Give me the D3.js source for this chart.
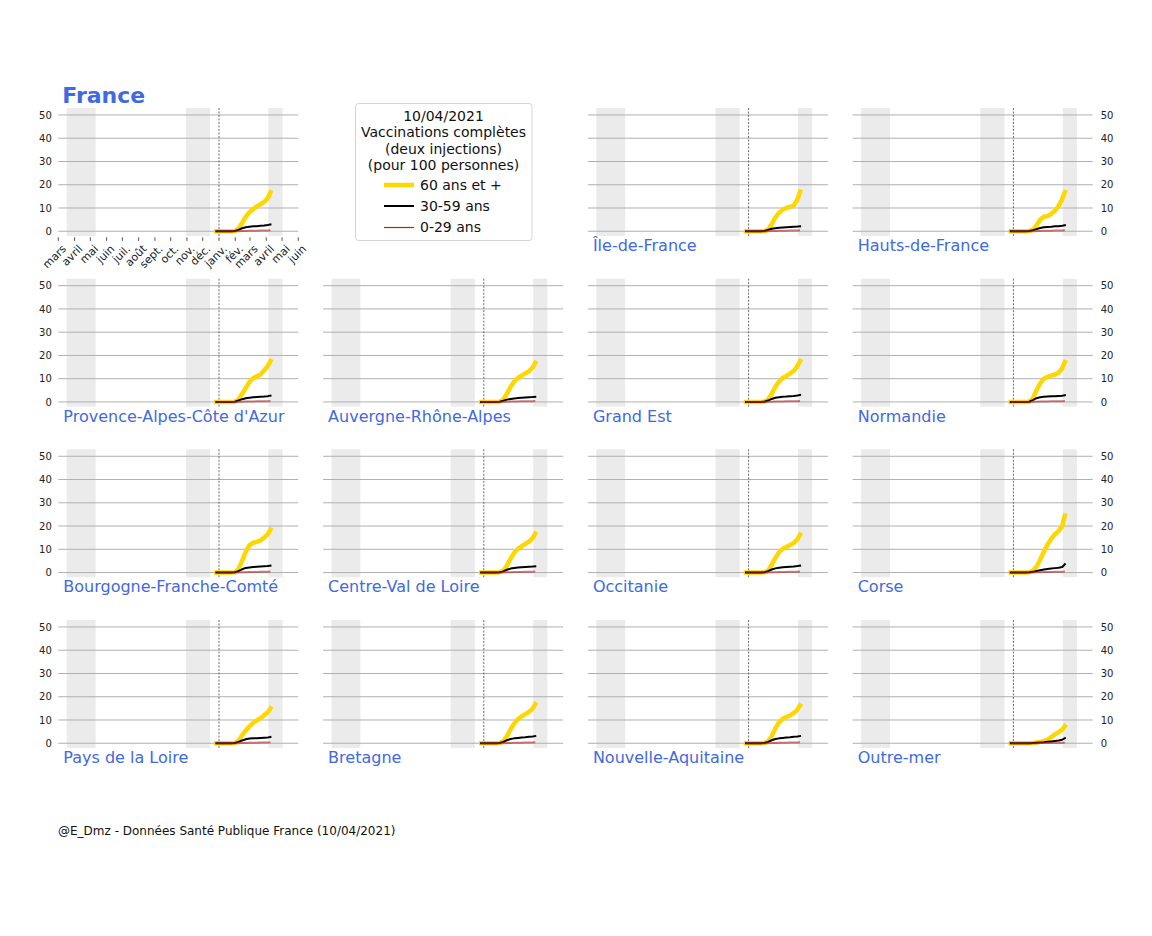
<!DOCTYPE html>
<html>
<head>
<meta charset="utf-8">
<script src="https://cdn.jsdelivr.net/npm/d3@7"></script>
<style>
  body { margin: 0; background: #fff; }
  svg { display: block; font-family: "DejaVu Sans", sans-serif; }
</style>
</head>
<body>
<svg id="chart" width="1152" height="936"></svg>
<script>
// ---------------- DATA ----------------
const regions = [
  "France", null, "Île-de-France", "Hauts-de-France",
  "Provence-Alpes-Côte d'Azur", "Auvergne-Rhône-Alpes", "Grand Est", "Normandie",
  "Bourgogne-Franche-Comté", "Centre-Val de Loire", "Occitanie", "Corse",
  "Pays de la Loire", "Bretagne", "Nouvelle-Aquitaine", "Outre-mer"
];
const dates = ["2020-12-27","2021-01-03","2021-01-10","2021-01-17","2021-01-24","2021-01-31",
  "2021-02-07","2021-02-14","2021-02-21","2021-02-28","2021-03-07","2021-03-14",
  "2021-03-21","2021-03-28","2021-04-04","2021-04-09"];
// 60 ans et +
const age60plus = [
  [0,0,0,0,0,0.1,1.2,3.5,6.3,8.2,9.5,10.7,11.6,12.6,14.3,16.8],
  null,
  [0,0,0,0,0,0.1,0.6,3.0,6.0,8.0,9.3,10.0,10.5,11.0,13.8,17.0],
  [0,0,0,0,0,0.1,0.6,2.5,5.0,6.2,6.5,7.5,8.8,10.8,13.8,16.8],
  [0,0,0,0,0,0.1,1.0,3.5,6.0,8.6,10.2,11.0,11.8,13.6,15.5,17.6],
  [0,0,0,0,0,0.1,1.0,3.5,6.5,8.8,10.3,11.3,12.3,13.2,14.8,16.8],
  [0,0,0,0,0,0.1,1.0,3.5,6.5,8.8,10.3,11.2,12.2,13.4,15.4,17.6],
  [0,0,0,0,0,0.1,1.5,5.0,8.0,10.0,10.8,11.3,11.8,12.5,14.5,17.2],
  [0,0,0,0,0,0.1,1.5,5.0,9.0,11.8,12.8,13.2,13.8,15.0,16.5,18.5],
  [0,0,0,0,0,0.1,0.8,3.0,6.0,8.5,10.2,11.3,12.3,13.3,14.8,16.8],
  [0,0,0,0,0,0.1,0.8,3.3,6.3,8.8,10.2,11.0,11.8,12.8,14.3,16.3],
  [0,0,0,0,0,0.1,0.8,2.5,5.5,9.0,12.0,14.5,16.5,17.8,20.0,24.5],
  [0,0,0,0,0,0.1,1.0,3.5,5.5,7.3,8.8,9.8,10.8,12.0,13.3,15.0],
  [0,0,0,0,0,0.1,0.8,3.0,6.0,8.5,10.3,11.5,12.5,13.5,14.8,16.8],
  [0,0,0,0,0,0.1,0.8,3.0,6.5,9.0,10.5,11.3,12.0,13.0,14.5,16.3],
  [0,0,0,0,0,0,0.1,0.3,0.6,1.0,1.6,2.6,3.8,4.8,5.8,7.3]
];
// 30-59 ans
const age30to59 = [
  [0,0,0,0,0,0.1,0.6,1.3,1.7,1.9,2.1,2.2,2.4,2.5,2.7,2.9],
  null,
  [0,0,0,0,0,0.1,0.6,1.1,1.3,1.5,1.6,1.7,1.8,1.9,2.0,2.1],
  [0,0,0,0,0,0.1,0.4,0.9,1.4,1.7,1.8,1.9,2.1,2.2,2.4,2.6],
  [0,0,0,0,0,0.1,0.6,1.2,1.6,1.8,2.0,2.1,2.2,2.3,2.5,2.7],
  [0,0,0,0,0,0.1,0.5,1.0,1.3,1.5,1.7,1.8,1.9,2.0,2.1,2.2],
  [0,0,0,0,0,0.1,0.6,1.3,1.8,2.0,2.2,2.3,2.5,2.6,2.8,3.0],
  [0,0,0,0,0,0.1,0.8,1.6,2.0,2.2,2.3,2.4,2.5,2.6,2.7,2.9],
  [0,0,0,0,0,0.1,0.6,1.4,2.0,2.2,2.4,2.5,2.6,2.7,2.8,3.0],
  [0,0,0,0,0,0.1,0.5,1.2,1.7,2.0,2.2,2.3,2.4,2.5,2.6,2.7],
  [0,0,0,0,0,0.1,0.6,1.3,1.8,2.1,2.3,2.4,2.5,2.6,2.8,3.0],
  [0,0,0,0,0,0.1,0.3,0.7,1.0,1.3,1.5,1.7,1.9,2.1,2.4,3.6],
  [0,0,0,0,0,0.1,0.6,1.2,1.7,2.0,2.1,2.2,2.3,2.4,2.5,2.7],
  [0,0,0,0,0,0.1,0.6,1.3,1.8,2.1,2.3,2.5,2.6,2.8,2.9,3.1],
  [0,0,0,0,0,0.1,0.6,1.3,1.8,2.1,2.3,2.5,2.6,2.8,2.9,3.1],
  [0,0,0,0,0,0,0.1,0.2,0.3,0.4,0.6,0.8,1.0,1.2,1.5,2.2]
];
// 0-29 ans
const age0to29 = [
  [0,0,0,0,0,0,0.05,0.1,0.15,0.2,0.2,0.25,0.3,0.3,0.35,0.4],
  null,
  [0,0,0,0,0,0,0.05,0.1,0.15,0.2,0.2,0.25,0.3,0.3,0.35,0.4],
  [0,0,0,0,0,0,0.05,0.1,0.15,0.2,0.2,0.25,0.3,0.3,0.35,0.4],
  [0,0,0,0,0,0,0.05,0.1,0.15,0.2,0.2,0.25,0.3,0.3,0.35,0.4],
  [0,0,0,0,0,0,0.05,0.1,0.15,0.2,0.2,0.25,0.3,0.3,0.35,0.4],
  [0,0,0,0,0,0,0.05,0.1,0.15,0.2,0.2,0.25,0.3,0.3,0.35,0.4],
  [0,0,0,0,0,0,0.05,0.1,0.15,0.2,0.2,0.25,0.3,0.3,0.35,0.4],
  [0,0,0,0,0,0,0.05,0.1,0.15,0.2,0.2,0.25,0.3,0.3,0.35,0.4],
  [0,0,0,0,0,0,0.05,0.1,0.15,0.2,0.2,0.25,0.3,0.3,0.35,0.4],
  [0,0,0,0,0,0,0.05,0.1,0.15,0.2,0.2,0.25,0.3,0.3,0.35,0.4],
  [0,0,0,0,0,0,0.05,0.1,0.15,0.2,0.2,0.25,0.3,0.3,0.35,0.4],
  [0,0,0,0,0,0,0.05,0.1,0.15,0.2,0.2,0.25,0.3,0.3,0.35,0.4],
  [0,0,0,0,0,0,0.05,0.1,0.15,0.2,0.2,0.25,0.3,0.3,0.35,0.4],
  [0,0,0,0,0,0,0.05,0.1,0.15,0.2,0.2,0.25,0.3,0.3,0.35,0.4],
  [0,0,0,0,0,0,0.02,0.05,0.08,0.1,0.12,0.15,0.18,0.2,0.22,0.25]
];
const lockdowns = [["2020-03-17","2020-05-11"],["2020-10-30","2020-12-15"],["2021-04-05","2021-05-02"]];
const markerDate = "2021-01-01";
const xDomain = ["2020-03-01","2021-06-01"];
const monthLabels = ["mars","avril","mai","juin","juil.","août","sept.","oct.","nov.","déc.","janv.","fév.","mars","avril","mai","juin"];
const yTicks = [0,10,20,30,40,50];
const legendTitle = ["10/04/2021","Vaccinations complètes","(deux injections)","(pour 100 personnes)"];
const seriesLabels = ["60 ans et +","30-59 ans","0-29 ans"];
const footer = "@E_Dmz - Données Santé Publique France (10/04/2021)";

// ---------------- LAYOUT ----------------
const parse = d3.utcParse("%Y-%m-%d");
const svg = d3.select("#chart");
const colLeft = [58.3, 323.1, 587.9, 852.7];
const rowTop = [108, 278.7, 449.3, 620];
const W = 240, H = 127.9;
const blue = "#4169e1";
const C60 = "#ffd700", C30 = "#000000", C0 = "#b22222";

const x = d3.scaleUtc().domain(xDomain.map(parse)).range([0, W]);
const y = d3.scaleLinear().domain([-2, 53]).range([H, 0]);
const monthTicks = d3.utcMonth.range(parse(xDomain[0]), d3.utcDay.offset(parse(xDomain[1]), 1));

regions.forEach((name, i) => {
  if (name === null) return;
  const r = Math.floor(i / 4), c = i % 4;
  const g = svg.append("g").attr("transform", `translate(${colLeft[c]},${rowTop[r]})`);

  g.selectAll("rect.ld").data(lockdowns).join("rect")
    .attr("x", d => x(parse(d[0])))
    .attr("width", d => x(parse(d[1])) - x(parse(d[0])))
    .attr("y", 0).attr("height", H)
    .attr("fill", "#ebebeb");

  g.selectAll("line.grid").data(yTicks).join("line")
    .attr("x1", 0).attr("x2", W)
    .attr("y1", d => y(d)).attr("y2", d => y(d))
    .attr("stroke", "#b0b0b0").attr("stroke-width", 1);

  g.append("line")
    .attr("x1", x(parse(markerDate))).attr("x2", x(parse(markerDate)))
    .attr("y1", 0).attr("y2", H)
    .attr("stroke", "#444").attr("stroke-width", 0.8).attr("stroke-dasharray", "2,1.5");

  const line = d3.line().x((d, k) => x(parse(dates[k]))).y(d => y(d));
  g.append("path").datum(age60plus[i]).attr("d", line)
    .attr("fill", "none").attr("stroke", C60).attr("stroke-width", 4.5)
    .attr("stroke-linecap", "square").attr("stroke-linejoin", "round");
  g.append("path").datum(age30to59[i]).attr("d", line)
    .attr("fill", "none").attr("stroke", C30).attr("stroke-width", 2)
    .attr("stroke-linecap", "square").attr("stroke-linejoin", "round");
  g.append("path").datum(age0to29[i]).attr("d", line)
    .attr("fill", "none").attr("stroke", C0).attr("stroke-width", 2).attr("stroke-opacity", 0.6)
    .attr("stroke-linejoin", "round");

  if (c === 0 || c === 3) {
    g.selectAll("text.yt").data(yTicks).join("text")
      .attr("x", c === 0 ? -6.5 : W + 8)
      .attr("y", d => y(d)).attr("dy", "0.36em")
      .attr("text-anchor", c === 0 ? "end" : "start")
      .attr("font-size", 10).attr("fill", "#222").text(d => d);
  }

  if (i === 0) {
    g.selectAll("line.xt").data(monthTicks).join("line")
      .attr("x1", d => x(d)).attr("x2", d => x(d))
      .attr("y1", H + 1.5).attr("y2", H + 5)
      .attr("stroke", "#222").attr("stroke-width", 0.8);
    g.selectAll("text.xl").data(monthTicks).join("text")
      .attr("transform", d => `translate(${x(d) + 3},${H + 8}) rotate(-45)`)
      .attr("text-anchor", "end").attr("dy", "0.72em")
      .attr("font-size", 11).attr("fill", "#222")
      .text((d, k) => monthLabels[k]);
    g.append("text").attr("x", 4).attr("y", -5.5)
      .attr("font-size", 22).attr("font-weight", "bold").attr("fill", blue).text(name);
  } else {
    g.append("text").attr("x", 5).attr("y", H + 15)
      .attr("font-size", 16).attr("fill", blue).text(name);
  }
});

// legend
const lg = svg.append("g");
lg.append("rect").attr("x", 355.5).attr("y", 103.5).attr("width", 176.5).attr("height", 137)
  .attr("rx", 3).attr("fill", "#fff").attr("stroke", "#d5d5d5");
lg.selectAll("text.lt").data(legendTitle).join("text")
  .attr("x", 443.5).attr("y", (d, k) => 120.5 + k * 16.5)
  .attr("text-anchor", "middle").attr("font-size", 14).attr("fill", "#111").text(d => d);
const legStroke = [[C60, 4.5, 0], [C30, 2, 0], ["#b22222", 1.2, 0.5]];
seriesLabels.forEach((lab, k) => {
  const yy = 185 + k * 21;
  lg.append("line").attr("x1", 384).attr("x2", 414)
    .attr("y1", yy + legStroke[k][2]).attr("y2", yy + legStroke[k][2])
    .attr("stroke", legStroke[k][0]).attr("stroke-width", legStroke[k][1]);
  lg.append("text").attr("x", 420).attr("y", yy).attr("dy", "0.36em")
    .attr("font-size", 14).attr("fill", "#111").text(lab);
});

svg.append("text").attr("x", 58).attr("y", 834.5).attr("font-size", 12).attr("fill", "#111").text(footer);
</script>
</body>
</html>
